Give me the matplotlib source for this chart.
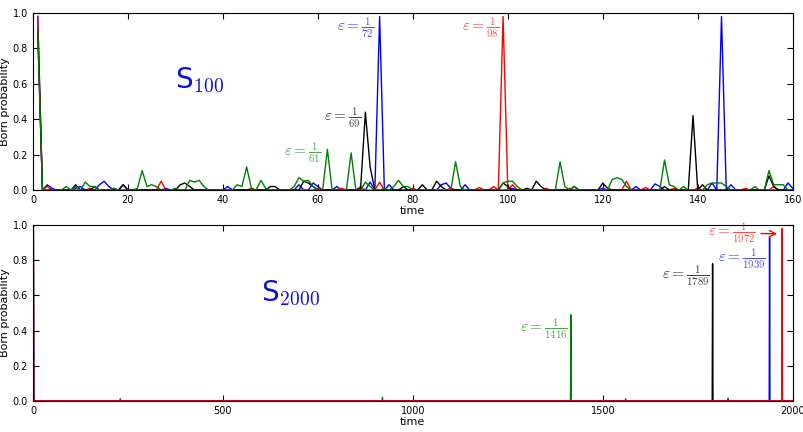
import numpy as np
import matplotlib
matplotlib.use('Agg')
import matplotlib.pyplot as plt

plt.rcParams['mathtext.fontset'] = 'cm'

# top panel: S_100, time 1..160, sparse readings (time, probability), rest ~0
blue_t = [1, 3, 4, 9, 10, 14, 15, 16, 19, 28, 41, 56, 59, 60, 64, 71, 72, 73, 74, 75,
          86, 87, 88, 91, 101, 120, 127, 131, 132, 143, 144, 145, 146, 147, 159, 160]
blue_p = [0.98, 0.03, 0.01, 0.01, 0.02, 0.03, 0.05, 0.02, 0.03, 0.01, 0.02, 0.03, 0.04, 0.02, 0.02, 0.045, 0.0, 0.98, 0.0, 0.03,
          0.03, 0.04, 0.01, 0.03, 0.01, 0.01, 0.02, 0.035, 0.02, 0.04, 0.0, 0.98, 0.0, 0.03, 0.04, 0.01]
red_t = [1, 3, 12, 17, 27, 46, 60, 65, 69, 73, 80, 88, 94, 97, 98, 99, 100, 101,
         108, 113, 125, 129, 135, 140, 150, 156]
red_p = [0.98, 0.02, 0.01, 0.01, 0.05, 0.01, 0.01, 0.01, 0.02, 0.045, 0.01, 0.01, 0.015, 0.02, 0.0, 0.98, 0.0, 0.03,
         0.01, 0.01, 0.05, 0.015, 0.01, 0.01, 0.01, 0.02]
black_t = [1, 9, 13, 19, 31, 32, 33, 50, 51, 57, 58, 59, 69, 70, 71, 72, 78, 82, 85, 86,
           99, 100, 104, 106, 107, 114, 120, 121, 133, 138, 139, 140, 141, 155, 156]
black_p = [0.9, 0.03, 0.02, 0.03, 0.03, 0.04, 0.02, 0.02, 0.02, 0.05, 0.04, 0.02, 0.01, 0.44, 0.13, 0.0, 0.02, 0.03, 0.05, 0.02,
           0.04, 0.02, 0.01, 0.05, 0.02, 0.02, 0.04, 0.01, 0.02, 0.0, 0.42, 0.0, 0.03, 0.08, 0.02]
green_t = [1, 7, 9, 11, 12, 13, 17, 22, 23, 24, 25, 26, 30, 33, 34, 35, 36, 43, 44, 45, 46, 48, 49,
           55, 56, 57, 58, 59, 62, 63, 66, 67, 68, 70, 71, 74, 76, 77, 78, 79, 89, 90,
           99, 100, 101, 102, 111, 112, 114, 122, 123, 124, 125, 132, 133, 134, 135, 137,
           142, 143, 144, 145, 146, 152, 155, 156, 157, 158]
green_p = [0.9, 0.02, 0.02, 0.045, 0.02, 0.02, 0.01, 0.01, 0.11, 0.02, 0.03, 0.02, 0.01, 0.055, 0.045, 0.055, 0.02, 0.03, 0.02, 0.13, 0.01, 0.055, 0.01,
           0.02, 0.07, 0.05, 0.055, 0.02, 0.23, 0.0, 0.0, 0.21, 0.0, 0.045, 0.02, 0.01, 0.02, 0.055, 0.02, 0.02, 0.16, 0.02,
           0.04, 0.05, 0.05, 0.02, 0.16, 0.02, 0.02, 0.06, 0.07, 0.06, 0.02, 0.0, 0.17, 0.03, 0.02, 0.02,
           0.03, 0.04, 0.04, 0.04, 0.02, 0.02, 0.11, 0.03, 0.03, 0.03]

# bottom panel: S_2000, time 1..2000, sparse readings
blue2_t = [1, 1939]
blue2_p = [1.0, 0.93]
red2_t = [1, 1972]
red2_p = [1.0, 0.98]
black2_t = [1, 1789]
black2_p = [1.0, 0.78]
green2_t = [1, 230, 920, 1416, 1560, 1830]
green2_p = [1.0, 0.012, 0.02, 0.49, 0.012, 0.015]


def series(n, ts, ps):
    t = np.arange(1, n + 1)
    p = np.zeros(n)
    p[np.array(ts) - 1] = ps
    return t, p


fig = plt.figure(figsize=(8.04, 4.32), dpi=100)
ax1 = fig.add_axes([0.041, 0.560, 0.945, 0.410])
ax2 = fig.add_axes([0.041, 0.072, 0.945, 0.407])

for ts, ps, c in [(blue_t, blue_p, 'b'), (red_t, red_p, 'r'), (black_t, black_p, 'k'), (green_t, green_p, 'g')]:
    t, p = series(160, ts, ps)
    ax1.plot(t, p, color=c, lw=1.0)

for ts, ps, c in [(green2_t, green2_p, 'g'), (black2_t, black2_p, 'k'), (blue2_t, blue2_p, 'b'), (red2_t, red2_p, 'r')]:
    t, p = series(2000, ts, ps)
    ax2.plot(t, p, color=c, lw=1.0)

ax1.set_xlim(0, 160)
ax2.set_xlim(0, 2000)
for ax in (ax1, ax2):
    ax.set_ylim(0, 1.0)
    ax.set_yticks([0.0, 0.2, 0.4, 0.6, 0.8, 1.0])
    ax.tick_params(direction='in', top=True, right=True, labelsize=7, length=4)
    ax.set_xlabel('time', fontsize=8, labelpad=1)
    ax.set_ylabel('Born probability', fontsize=8, labelpad=2)
ax1.set_xticks([0, 20, 40, 60, 80, 100, 120, 140, 160])
ax2.set_xticks([0, 500, 1000, 1500, 2000])

ax1.text(30, 0.62, r'S$_{100}$', color='#1010e0', fontsize=20, va='center')
ax2.text(600, 0.61, r'S$_{2000}$', color='#1010e0', fontsize=20, va='center')

fs = 11
ax1.text(71.8, 0.92, r'$\varepsilon=\frac{1}{72}$', color='b', alpha=0.7, fontsize=fs, ha='right', va='center')
ax1.text(98.1, 0.92, r'$\varepsilon=\frac{1}{98}$', color='r', alpha=0.7, fontsize=fs, ha='right', va='center')
ax1.text(69.0, 0.41, r'$\varepsilon=\frac{1}{69}$', color='k', alpha=0.75, fontsize=fs, ha='right', va='center')
ax1.text(60.6, 0.21, r'$\varepsilon=\frac{1}{61}$', color='g', alpha=0.7, fontsize=fs, ha='right', va='center')

ax2.text(1407, 0.41, r'$\varepsilon=\frac{1}{1416}$', color='g', alpha=0.7, fontsize=fs, ha='right', va='center')
ax2.text(1781, 0.71, r'$\varepsilon=\frac{1}{1789}$', color='k', alpha=0.75, fontsize=fs, ha='right', va='center')
ax2.text(1929, 0.81, r'$\varepsilon=\frac{1}{1939}$', color='b', alpha=0.7, fontsize=fs, ha='right', va='center')
ax2.annotate(r'$\varepsilon=\frac{1}{1972}$', xy=(1966, 0.95), xytext=(1902, 0.955),
             color='r', alpha=0.7, fontsize=fs, ha='right', va='center',
             arrowprops=dict(arrowstyle='->', color='r', lw=1.0))

fig.savefig('out.png', dpi=100)
